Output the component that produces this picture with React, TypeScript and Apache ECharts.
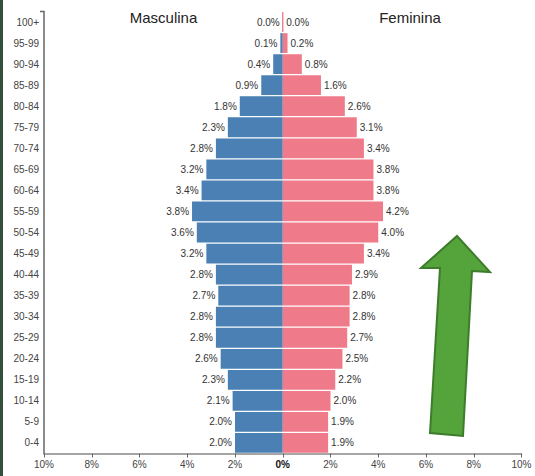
import React, { useEffect, useRef } from "react";
import * as echarts from "echarts";

const ageGroups = [
  "0-4", "5-9", "10-14", "15-19", "20-24", "25-29", "30-34", "35-39", "40-44", "45-49",
  "50-54", "55-59", "60-64", "65-69", "70-74", "75-79", "80-84", "85-89", "90-94", "95-99", "100+",
];
const maleValues = [2.0, 2.0, 2.1, 2.3, 2.6, 2.8, 2.8, 2.7, 2.8, 3.2, 3.6, 3.8, 3.4, 3.2, 2.8, 2.3, 1.8, 0.9, 0.4, 0.1, 0.0];
const femaleValues = [1.9, 1.9, 2.0, 2.2, 2.5, 2.7, 2.8, 2.8, 2.9, 3.4, 4.0, 4.2, 3.8, 3.8, 3.4, 3.1, 2.6, 1.6, 0.8, 0.2, 0.0];
const titles = ["Masculina", "Feminina"];

const BLUE = "#4a80b4";
const PINK = "#ef7b8a";
const FONT = "'Liberation Sans', Arial, Helvetica, sans-serif";

export default function App() {
  const ref = useRef<HTMLDivElement>(null);
  useEffect(() => {
    if (!ref.current) return;
    const chart = echarts.init(ref.current, undefined, { renderer: "svg" });
    const labelStyle = { fontSize: 10, color: "#333", fontFamily: FONT, distance: 3 };
    chart.setOption({
      animation: false,
      backgroundColor: "#fff",
      grid: { left: 44, right: 13.5, top: 11.5, bottom: 22.5, containLabel: false },
      xAxis: {
        type: "value",
        min: -10,
        max: 10,
        interval: 2,
        axisLine: { show: true, lineStyle: { color: "#888", width: 1.5 } },
        axisTick: { show: true, length: 4, lineStyle: { color: "#666" } },
        splitLine: { show: false },
        axisLabel: {
          fontSize: 10,
          color: "#444",
          fontFamily: FONT,
          margin: 6,
          formatter: (v: number) => (v === 0 ? "{b|0%}" : Math.abs(v) + "%"),
          rich: { b: { fontWeight: "bold", fontSize: 10, color: "#111", fontFamily: FONT } },
        },
      },
      yAxis: {
        type: "category",
        data: ageGroups,
        axisLine: { show: true, onZero: false, lineStyle: { color: "#666", width: 1.5 } },
        axisTick: { show: false },
        axisLabel: { fontSize: 10, color: "#444", fontFamily: FONT, margin: 5 },
      },
      graphic: [
        { type: "rect", left: 0, top: 0, shape: { width: 3, height: 476 }, style: { fill: "#33503d" } },
        { type: "line", shape: { x1: 40, y1: 11.5, x2: 44, y2: 11.5 }, style: { stroke: "#666", lineWidth: 1.5 } },
        {
          type: "text",
          x: 163.5,
          y: 17,
          style: { text: titles[0], fontSize: 15, fontFamily: FONT, fill: "#222", align: "center", verticalAlign: "middle" },
        },
        {
          type: "text",
          x: 410,
          y: 17,
          style: { text: titles[1], fontSize: 15, fontFamily: FONT, fill: "#222", align: "center", verticalAlign: "middle" },
        },
        {
          type: "polygon",
          shape: {
            points: [
              [457, 236], [490, 272], [472, 271], [463, 436], [430, 433], [440, 268], [421, 268],
            ],
          },
          style: { fill: "#55a33b", stroke: "#3d7c2b", lineWidth: 2 },
          z: 100,
        },
      ],
      series: [
        {
          name: titles[0],
          type: "bar",
          data: maleValues.map((v) => -v),
          barGap: "-100%",
          barCategoryGap: "6%",
          itemStyle: { color: BLUE },
          label: {
            show: true,
            position: "left",
            ...labelStyle,
            formatter: (p: any) => Math.abs(p.value).toFixed(1) + "%",
          },
        },
        {
          name: titles[1],
          type: "bar",
          data: femaleValues.map((v) =>
            v === 0 ? { value: v, itemStyle: { borderColor: PINK, borderWidth: 1 } } : v
          ),
          barCategoryGap: "6%",
          itemStyle: { color: PINK },
          label: {
            show: true,
            position: "right",
            ...labelStyle,
            formatter: (p: any) => Number(p.value).toFixed(1) + "%",
          },
        },
      ],
    });
    return () => chart.dispose();
  }, []);
  return (
    <div
      ref={ref}
      style={{ position: "fixed", left: 0, top: 0, width: 535, height: 476 }}
    />
  );
}
